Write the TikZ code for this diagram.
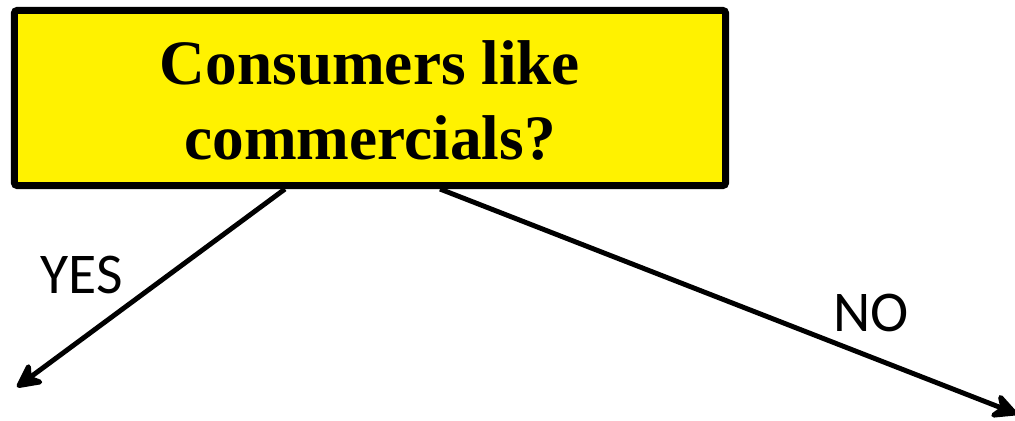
\documentclass[tikz,border=0pt]{standalone}
\usepackage{fontspec}
\setmainfont{Liberation Serif}
\newfontfamily\lblfont{Carlito}
\usetikzlibrary{arrows.meta,calc}

\begin{document}
\begin{tikzpicture}[x=0.025cm, y=-0.025cm,
    question/.style={draw, line width=5pt, rounded corners=2pt, fill=yellow,
        minimum width=17.775cm, minimum height=4.375cm, align=center,
        font=\fontsize{45}{53}\selectfont\bfseries},
    answer/.style={font=\lblfont\fontsize{41}{48}\selectfont},
    branch/.style={line width=3.5pt, -{Stealth[length=22pt, width=22pt, inset=7pt, round]}}]
\useasboundingbox (0,0) rectangle (1015,421);
\node[question] (ask) at (370,98) {\rule{0pt}{35pt}Consumers like\\commercials?};
\coordinate (yesEnd) at (17,387);
\coordinate (noEnd) at (1017,414);
\draw[branch] ([xshift=-2.125cm]ask.south) -- (yesEnd);
\draw[branch] ([xshift=1.75cm]ask.south) -- (noEnd);
\node[answer] (yes) at (82,275) {YES};
\node[answer] (no) at (871,313) {NO};
\end{tikzpicture}
\end{document}
